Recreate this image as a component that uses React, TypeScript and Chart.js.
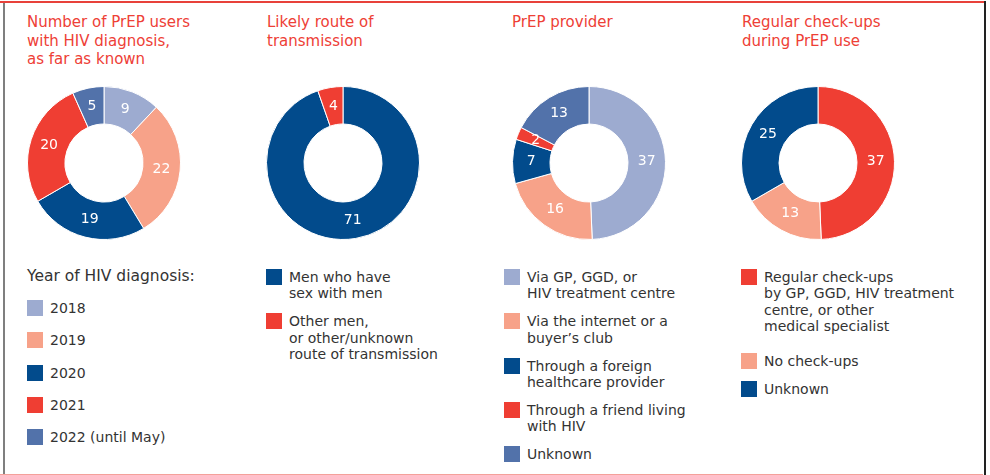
import { useEffect, useRef } from "react";
import { Chart, registerables } from "chart.js";

Chart.register(...registerables);

const LIGHT_BLUE = "#9dabd0";
const SALMON = "#f7a289";
const DARK_BLUE = "#024b8c";
const RED = "#ef3e33";
const MID_BLUE = "#5272aa";

// ---- data ----
const diagnosisTitle = ["Number of PrEP users", "with HIV diagnosis,", "as far as known"];
const diagnosisHeader = "Year of HIV diagnosis:";
const diagnosisYears = [["2018"], ["2019"], ["2020"], ["2021"], ["2022 (until May)"]];
const diagnosisCounts = [9, 22, 19, 20, 5];
const diagnosisColors = [LIGHT_BLUE, SALMON, DARK_BLUE, RED, MID_BLUE];

const routeTitle = ["Likely route of", "transmission"];
const routeLabels = [["Men who have", "sex with men"], ["Other men,", "or other/unknown", "route of transmission"]];
const routeCounts = [71, 4];
const routeColors = [DARK_BLUE, RED];

const providerTitle = ["PrEP provider"];
const providerLabels = [
  ["Via GP, GGD, or", "HIV treatment centre"],
  ["Via the internet or a", "buyer\u2019s club"],
  ["Through a foreign", "healthcare provider"],
  ["Through a friend living", "with HIV"],
  ["Unknown"],
];
const providerCounts = [37, 16, 7, 2, 13];
const providerColors = [LIGHT_BLUE, SALMON, DARK_BLUE, RED, MID_BLUE];

const checkupTitle = ["Regular check-ups", "during PrEP use"];
const checkupLabels = [
  ["Regular check-ups", "by GP, GGD, HIV treatment", "centre, or other", "medical specialist"],
  ["No check-ups"],
  ["Unknown"],
];
const checkupCounts = [37, 13, 25];
const checkupColors = [RED, SALMON, DARK_BLUE];

const FONT = '"DejaVu Sans", Verdana, sans-serif';

const valueLabels = {
  id: "valueLabels",
  afterDatasetsDraw(chart: any) {
    const ctx = chart.ctx;
    const meta = chart.getDatasetMeta(0);
    const data = chart.data.datasets[0].data;
    ctx.save();
    ctx.font = `14px ${FONT}`;
    ctx.fillStyle = "#ffffff";
    ctx.textAlign = "center";
    ctx.textBaseline = "middle";
    meta.data.forEach((arc: any, i: number) => {
      const p = arc.getCenterPoint();
      ctx.fillText(String(data[i]), p.x, p.y);
    });
    ctx.restore();
  },
};

function Donut({ values, colors, labels, cx, cy }: { values: number[]; colors: string[]; labels: string[][]; cx: number; cy: number }) {
  const ref = useRef<HTMLCanvasElement>(null);
  const size = 154;
  useEffect(() => {
    if (!ref.current) return;
    const chart = new Chart(ref.current, {
      type: "doughnut",
      data: {
        labels: labels.map((l) => l.join(" ")),
        datasets: [
          {
            data: values,
            backgroundColor: colors,
            borderColor: "#ffffff",
            borderWidth: 1,
          },
        ],
      },
      options: {
        responsive: false,
        animation: false,
        events: [],
        cutout: "51%",
        layout: { padding: 0 },
        plugins: { legend: { display: false }, tooltip: { enabled: false } },
      },
      plugins: [valueLabels],
    });
    return () => chart.destroy();
  }, []);
  return (
    <canvas
      ref={ref}
      width={size}
      height={size}
      style={{ position: "absolute", left: cx - size / 2, top: cy - size / 2, width: size, height: size }}
    />
  );
}

function Title({ lines, left }: { lines: string[]; left: number }) {
  return (
    <div
      style={{
        position: "absolute",
        left,
        top: 13,
        color: "#ee4036",
        font: `15px ${FONT}`,
        lineHeight: "18.5px",
        whiteSpace: "nowrap",
      }}
    >
      {lines.map((l, i) => (
        <div key={i}>{l}</div>
      ))}
    </div>
  );
}

function Legend({
  items,
  colors,
  left,
  top,
  gap,
  header,
  extraGaps,
}: {
  items: string[][];
  colors: string[];
  left: number;
  top: number;
  gap: number;
  header?: string;
  extraGaps?: number[];
}) {
  return (
    <div
      style={{
        position: "absolute",
        left,
        top,
        font: `14px ${FONT}`,
        lineHeight: "16.3px",
        color: "#333333",
        whiteSpace: "nowrap",
      }}
    >
      {header && <div style={{ marginBottom: gap, fontSize: "15.5px" }}>{header}</div>}
      {items.map((lines, i) => (
        <div
          key={i}
          style={{ display: "flex", alignItems: "flex-start", marginBottom: gap + ((extraGaps && extraGaps[i]) || 0) }}
        >
          <div style={{ width: 16, height: 16, background: colors[i], flex: "0 0 16px", marginRight: 7 }} />
          <div>
            {lines.map((l, j) => (
              <div key={j}>{l}</div>
            ))}
          </div>
        </div>
      ))}
    </div>
  );
}

export default function App() {
  return (
    <div
      style={{
        position: "absolute",
        left: 0,
        top: 0,
        width: 990,
        height: 475,
        background: "#ffffff",
        overflow: "hidden",
      }}
    >
      {/* frame */}
      <div style={{ position: "absolute", left: 0, top: 1, width: 985, height: 2, background: "#e8413a" }} />
      <div style={{ position: "absolute", left: 3, top: 3, width: 2, height: 472, background: "#7f7f7f" }} />
      <div style={{ position: "absolute", left: 984, top: 1, width: 2, height: 474, background: "#222222" }} />
      <div style={{ position: "absolute", left: 0, top: 474, width: 983, height: 1, background: "#f4a09a" }} />

      <Title lines={diagnosisTitle} left={27} />
      <Title lines={routeTitle} left={267} />
      <Title lines={providerTitle} left={512} />
      <Title lines={checkupTitle} left={742} />

      <Donut values={diagnosisCounts} colors={diagnosisColors} labels={diagnosisYears} cx={104} cy={162.5} />
      <Donut values={routeCounts} colors={routeColors} labels={routeLabels} cx={342.5} cy={162.5} />
      <Donut values={providerCounts} colors={providerColors} labels={providerLabels} cx={588.5} cy={162.5} />
      <Donut values={checkupCounts} colors={checkupColors} labels={checkupLabels} cx={818} cy={162.5} />

      <Legend items={diagnosisYears} colors={diagnosisColors} left={27} top={267.7} gap={16} header={diagnosisHeader} />
      <Legend items={routeLabels} colors={routeColors} left={266} top={269} gap={11.7} />
      <Legend items={providerLabels} colors={providerColors} left={504} top={269} gap={11.7} />
      <Legend items={checkupLabels} colors={checkupColors} left={741} top={269} gap={11.7} extraGaps={[7]} />
    </div>
  );
}
